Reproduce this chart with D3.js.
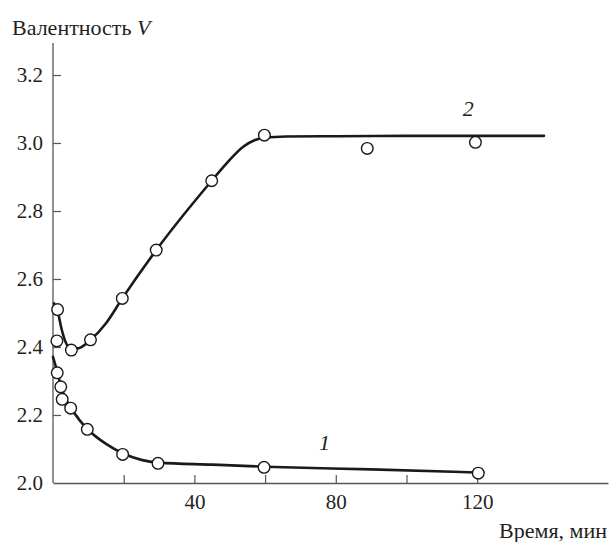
<!DOCTYPE html>
<html>
<head>
<meta charset="utf-8">
<script src="https://cdn.jsdelivr.net/npm/d3@7"></script>
<style>
  html, body { margin: 0; padding: 0; background: #fff; }
  svg { display: block; }
  svg text { font-family: "Liberation Serif", "Times New Roman", Times, "Nimbus Roman", "Noto Serif", "DejaVu Serif", serif !important; fill: #231f20; }
</style>
</head>
<body>
<svg id="chart" width="610" height="542"></svg>
<script>
// ---- Data (time in minutes, valence V) ----
// Series 1: measured points
const s1Time  = [1.2, 2.2, 2.6, 5.0, 9.7, 19.7, 29.7, 59.7, 120.3];
const s1Value = [2.324, 2.283, 2.246, 2.220, 2.158, 2.084, 2.058, 2.046, 2.029];
// Series 1: smooth fitted curve
const c1Time  = [0, 1, 2, 3, 5, 7.5, 10, 15, 20, 25, 30, 45, 60, 90, 120];
const c1Value = [2.371, 2.335, 2.295, 2.262, 2.222, 2.185, 2.156, 2.115, 2.086, 2.068, 2.060, 2.054, 2.048, 2.040, 2.031];

// Series 2: measured points
const s2Time  = [1.3, 1.1, 5.2, 10.6, 19.6, 29.2, 44.9, 59.8, 88.9, 119.5];
const s2Value = [2.510, 2.418, 2.391, 2.421, 2.543, 2.685, 2.889, 3.023, 2.984, 3.002];
// Series 2: smooth fitted curve
const c2Time  = [0.3, 1.3, 2.5, 3.5, 5, 7, 10.6, 15, 19.6, 29.2, 44.9, 49.1, 53.8, 57, 60, 66, 80, 100, 120, 138.9];
const c2Value = [2.528, 2.505, 2.450, 2.416, 2.396, 2.396, 2.421, 2.470, 2.543, 2.685, 2.889, 2.940, 2.989, 3.008, 3.016, 3.019, 3.020, 3.021, 3.021, 3.021];

// Axis ticks
const xTicks = [20, 40, 60, 80, 100, 120];
const xLabelTicks = [40, 80, 120];
const yTicks = [2.2, 2.4, 2.6, 2.8, 3.0, 3.2];

const yTitle = "Валентность ";
const yTitleVar = "V";
const xTitle = "Время, мин";
const curveLabels = [{t: 76.8, v: 2.097, text: "1"}, {t: 117.5, v: 3.08, text: "2"}];

// ---- Drawing ----
const FONT = '"Liberation Serif", "Times New Roman", Times, "Nimbus Roman", "Noto Serif", "DejaVu Serif", serif';
const svg = d3.select("#chart");
const x = d3.scaleLinear().domain([0, 157]).range([53, 608]);
const y = d3.scaleLinear().domain([2.0, 3.2]).range([483, 75]);
const axisColor = "#555";

// X axis
const gx = svg.append("g").attr("transform", `translate(0,${y(2.0)})`)
  .call(d3.axisBottom(x).tickValues(xTicks).tickSizeInner(-8).tickSizeOuter(0).tickPadding(11)
    .tickFormat(d => xLabelTicks.includes(d) ? d3.format("d")(d) : ""));
gx.attr("font-family", FONT);
gx.select(".domain").attr("stroke", axisColor).attr("stroke-width", 1.3);
gx.selectAll(".tick line").attr("stroke", axisColor).attr("stroke-width", 1.2);
gx.selectAll(".tick text").attr("font-size", 21).attr("fill", "#231f20");

// Y axis
svg.append("line").attr("x1", x(0)).attr("x2", x(0)).attr("y1", y(2.0)).attr("y2", 43)
  .attr("stroke", axisColor).attr("stroke-width", 1.3);
const yAxis = svg.append("g").attr("transform", `translate(${x(0)},0)`)
  .call(d3.axisLeft(y).tickValues(yTicks).tickSizeInner(-8).tickSizeOuter(0).tickPadding(10)
    .tickFormat(d3.format(".1f")));
yAxis.attr("font-family", FONT);
yAxis.select(".domain").remove();
yAxis.selectAll(".tick line").attr("stroke", axisColor).attr("stroke-width", 1.2);
yAxis.selectAll(".tick text").attr("font-size", 21).attr("fill", "#231f20");
// 2.0 label (the origin)
svg.append("text").attr("x", x(0) - 10).attr("y", y(2.0)).attr("dy", "0.32em")
  .attr("text-anchor", "end").attr("font-size", 21).text(d3.format(".1f")(2.0));

// Titles
const tt = svg.append("text").attr("x", 12).attr("y", 35).attr("font-size", 22);
tt.append("tspan").text(yTitle);
tt.append("tspan").attr("font-style", "italic").text(yTitleVar);
svg.append("text").attr("x", 607).attr("y", 538).attr("text-anchor", "end")
  .attr("font-size", 22).text(xTitle);

// Curves
const line = d3.line().x(d => x(d[0])).y(d => y(d[1])).curve(d3.curveMonotoneX);
const c1 = c1Time.map((t, i) => [t, c1Value[i]]);
const c2 = c2Time.map((t, i) => [t, c2Value[i]]);
[c1, c2].forEach(c => {
  svg.append("path").datum(c).attr("d", line)
    .attr("fill", "none").attr("stroke", "#1a1a1a").attr("stroke-width", 2.6)
    .attr("stroke-linejoin", "round").attr("stroke-linecap", "round");
});

// Points
const pts = s1Time.map((t, i) => [t, s1Value[i]]).concat(s2Time.map((t, i) => [t, s2Value[i]]));
svg.append("g").selectAll("circle").data(pts).join("circle")
  .attr("cx", d => x(d[0])).attr("cy", d => y(d[1])).attr("r", 5.8)
  .attr("fill", "#fff").attr("stroke", "#1a1a1a").attr("stroke-width", 1.4);

// Curve labels
svg.append("g").selectAll("text").data(curveLabels).join("text")
  .attr("x", d => x(d.t)).attr("y", d => y(d.v)).attr("text-anchor", "middle")
  .attr("font-size", 22).attr("font-style", "italic").text(d => d.text);
</script>
</body>
</html>
